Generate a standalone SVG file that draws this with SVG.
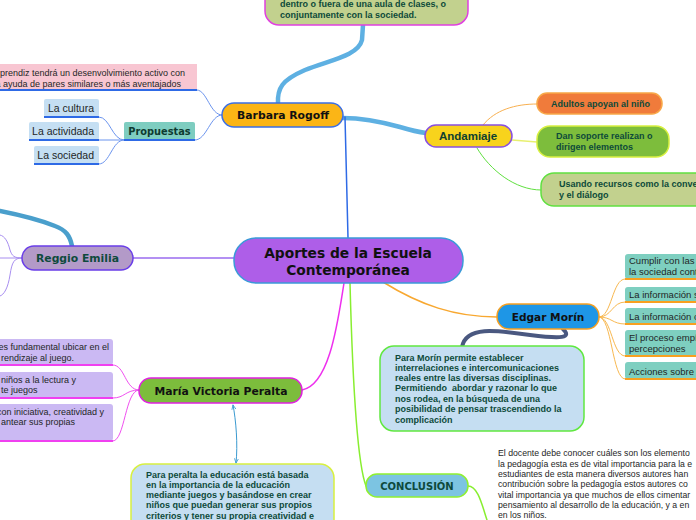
<svg xmlns="http://www.w3.org/2000/svg" width="696" height="520" viewBox="0 0 696 520">
<defs>
<marker id="ar" viewBox="0 0 10 10" refX="9" refY="5" markerWidth="5" markerHeight="5" orient="auto-start-reverse">
<path d="M0,1 L9,5 L0,9" fill="none" stroke="#3a9ad0" stroke-width="1.6"/>
</marker>
</defs>
<style>
.nt{font-family:"DejaVu Sans",Verdana,sans-serif;font-weight:bold;text-anchor:middle}
.dt{font-family:"Liberation Sans",Arial,sans-serif;font-weight:bold;font-size:9px;fill:#0d4a3a}
.lt{font-family:"Liberation Sans",Arial,sans-serif;fill:#1e2626}
.c{fill:none;stroke-linecap:round}
.thin{stroke-width:1}
.mid{stroke-width:1.5}
.thick{stroke-width:4.5}
</style>
<rect width="696" height="520" fill="#ffffff"/>

<g id="connectors">
<path class="c thick" stroke="#5eb0e2" d="M278,104 C277,88 282,80 305,70 C330,60 358,56 362,40 L363,25"/>
<path class="c thick" stroke="#5eb0e2" stroke-width="4" d="M343,118 C362,118 382,122 400,127 C410,130 418,132 426,133"/>
<path class="c mid" stroke="#2e6ae6" d="M345,117 L348,238"/>
<path class="c mid" stroke="#9b6cf0" d="M133,258 L234,258"/>
<path class="c mid" stroke="#ee30ee" d="M344,283 C338,320 330,385 302,390"/>
<path class="c mid" stroke="#88ee30" d="M350,283 C352,360 356,460 366,486"/>
<path class="c mid" stroke="#f8a830" d="M383,282 C420,305 455,317 497,317"/>
<path class="c thick" stroke="#4a9fcc" d="M72,246 C70,236 66,230 55,226 C40,220 20,215 0,211"/>
<path class="c thin" stroke="#a88ef0" d="M22,258 C14,258 12,256 10,250 C8,242 5,236 0,235 M22,258 L0,258 M22,258 C14,258 12,262 10,275 C8,288 4,295 0,296"/>
<path class="c thin" stroke="#6b94ee" d="M222,115 C210,115 207,90 197,90 M222,115 C210,115 207,140 195,140"/>
<path class="c thin" stroke="#6b94ee" d="M124,140 C112,140 110,117 99,117 M124,140 L99,140 M124,140 C112,140 110,164 99,164"/>
<path class="c thin" stroke="#f8b050" d="M483,125 C495,110 515,104 537,104"/>
<path class="c mid" stroke="#e8f070" d="M512,140 L537,142"/>
<path class="c thin" stroke="#60e040" d="M477,148 C490,170 515,190 541,190"/>
<path class="c thin" stroke="#f8b850" d="M599,317 C612,317 612,279 625,279 M599,317 C612,317 612,302 625,302 M599,317 C612,317 612,324 625,324 M599,317 C612,317 612,356 625,356 M599,317 C612,317 612,379 625,379"/>
<path class="c" stroke="#4a5880" stroke-width="4" d="M563,329 C572,338 562,339 530,335 C495,330 466,326 462,347"/>
<path class="c thin" stroke="#f050f0" d="M139,390 C125,390 125,365 113,365 M139,390 C125,390 125,398 113,398 M139,390 C125,390 125,441 113,441"/>
<path class="c thin" stroke="#3a9ad0" marker-start="url(#ar)" marker-end="url(#ar)" d="M233,405 C236,420 238,445 236,463"/>
<path class="c mid" stroke="#88ee30" d="M468,486 C478,486 482,505 487,520"/>
</g>

<g id="central">
<rect x="234" y="238" width="229" height="45" rx="22" fill="#ae5ee8" stroke="#3b9ad8" stroke-width="1.5"/>
<text class="nt" x="348" y="258" font-size="13.8" fill="#111">Aportes de la Escuela</text>
<text class="nt" x="348" y="275" font-size="13.8" fill="#111">Contemporánea</text>
</g>

<g id="barbara-rogoff">
<rect x="222" y="103" width="121" height="24" rx="12" fill="#fbb516" stroke="#3a6fe6" stroke-width="1.5"/>
<text class="nt" x="283" y="119" font-size="10.8" fill="#111">Barbara Rogoff</text>
</g>

<g id="rogoff-nota">
<rect x="265" y="-30" width="203" height="55" rx="14" fill="#c2d18e" stroke="#e040e0" stroke-width="1.5"/>
<text class="dt" x="280" y="7">dentro o fuera de una aula de clases, o</text>
<text class="dt" x="280" y="17.5">conjuntamente con la sociedad.</text>
</g>

<g id="aprendiz">
<rect x="-5" y="64" width="202" height="26" fill="#f8c6d2"/>
<path d="M0,90 L197,90" stroke="#2e6ae6" stroke-width="2"/>
<text class="lt" x="185" y="76" font-size="9" text-anchor="end">prendiz tendrá un desenvolvimiento activo con</text>
<text class="lt" x="181" y="87" font-size="9" text-anchor="end">a ayuda de pares similares o más aventajados</text>
</g>

<g id="propuestas">
<rect x="124" y="122" width="71" height="18" rx="2" fill="#7ecdc0"/>
<path d="M124,140 L195,140" stroke="#2e6ae6" stroke-width="2"/>
<text class="nt" x="159.5" y="135" font-size="9.8" fill="#0e3a30">Propuestas</text>
</g>

<g id="la-cultura">
<rect x="44" y="99" width="55" height="18" rx="2" fill="#c5dff3"/>
<path d="M44,117 L99,117" stroke="#2e6ae6" stroke-width="2"/>
<text class="lt" x="94" y="112" font-size="10.5" text-anchor="end">La cultura</text>
</g>

<g id="la-actividada">
<rect x="29" y="122" width="70" height="18" rx="2" fill="#c5dff3"/>
<path d="M29,140 L99,140" stroke="#2e6ae6" stroke-width="2"/>
<text class="lt" x="94" y="135" font-size="10.5" text-anchor="end">La actividada</text>
</g>

<g id="la-sociedad">
<rect x="34" y="146" width="65" height="18" rx="2" fill="#c5dff3"/>
<path d="M34,164 L99,164" stroke="#2e6ae6" stroke-width="2"/>
<text class="lt" x="94" y="159" font-size="10.5" text-anchor="end">La sociedad</text>
</g>

<g id="andamiaje">
<rect x="425" y="125" width="87" height="22" rx="11" fill="#f8d31c" stroke="#8850e0" stroke-width="1.5"/>
<text x="468" y="140" font-family="Liberation Sans, Arial, sans-serif" font-weight="bold" font-size="11.5" text-anchor="middle" fill="#0e4030">Andamiaje</text>
</g>

<g id="adultos">
<rect x="537" y="93" width="125" height="21" rx="10" fill="#f07b3b" stroke="#f8a848" stroke-width="1.5"/>
<text class="dt" x="551" y="107" fill="#173a22">Adultos apoyan al niño</text>
</g>

<g id="dan-soporte">
<rect x="537" y="126" width="132" height="31" rx="13" fill="#7dbd3c" stroke="#d8f040" stroke-width="1.5"/>
<text class="dt" x="556" y="139">Dan soporte realizan o</text>
<text class="dt" x="556" y="150">dirigen elementos</text>
</g>

<g id="usando-recursos">
<rect x="541" y="173" width="170" height="33" rx="13" fill="#c2d18e" stroke="#60e040" stroke-width="1.5"/>
<text class="dt" x="559" y="187">Usando recursos como la conve</text>
<text class="dt" x="559" y="197.5">y el diálogo</text>
</g>

<g id="reggio-emilia">
<rect x="22" y="246" width="111" height="24" rx="12" fill="#b39ac8" stroke="#6a3ee8" stroke-width="1.5"/>
<text class="nt" x="77.5" y="262" font-size="10.8" fill="#0e4a3c">Reggio Emilia</text>
</g>

<g id="edgar-morin">
<rect x="497" y="304" width="102" height="25" rx="12" fill="#1e96e6" stroke="#f8a020" stroke-width="1.5"/>
<text class="nt" x="548" y="321" font-size="10.6" fill="#111">Edgar Morín</text>
</g>

<g id="morin-1">
<rect x="625" y="254" width="80" height="25" rx="3" fill="#7ecfc0"/>
<path d="M625,279 L696,279" stroke="#f8a020" stroke-width="2"/>
<text class="lt" x="629" y="264" font-size="9.5">Cumplir con las n</text>
<text class="lt" x="629" y="275" font-size="9.5">la sociedad conte</text>
</g>
<g id="morin-2">
<rect x="625" y="287" width="80" height="15" rx="3" fill="#7ecfc0"/>
<path d="M625,302 L696,302" stroke="#f8a020" stroke-width="2"/>
<text class="lt" x="629" y="297.5" font-size="9.5">La información s</text>
</g>
<g id="morin-3">
<rect x="625" y="308" width="80" height="16" rx="3" fill="#7ecfc0"/>
<path d="M625,324 L696,324" stroke="#f8a020" stroke-width="2"/>
<text class="lt" x="629" y="319.5" font-size="9.5">La información o</text>
</g>
<g id="morin-4">
<rect x="625" y="330" width="80" height="26" rx="3" fill="#7ecfc0"/>
<path d="M625,356 L696,356" stroke="#f8a020" stroke-width="2"/>
<text class="lt" x="629" y="340.5" font-size="9.5">El proceso empír</text>
<text class="lt" x="629" y="351.5" font-size="9.5">percepciones</text>
</g>
<g id="morin-5">
<rect x="625" y="362" width="80" height="17" rx="3" fill="#7ecfc0"/>
<path d="M625,379 L696,379" stroke="#f8a020" stroke-width="2"/>
<text class="lt" x="629" y="374.5" font-size="9.5">Acciones sobre l</text>
</g>

<g id="morin-nota">
<rect x="380" y="346" width="204" height="85" rx="14" fill="#c5def2" stroke="#60e840" stroke-width="1.5"/>
<text class="dt" x="395" y="360.5">Para Morín permite establecer</text>
<text class="dt" x="395" y="371">interrelaciones e intercomunicaciones</text>
<text class="dt" x="395" y="381.2">reales entre las diversas disciplinas.</text>
<text class="dt" x="395" y="391.4" xml:space="preserve">Permitiendo  abordar y razonar lo que</text>
<text class="dt" x="395" y="401.6">nos rodea, en la búsqueda de una</text>
<text class="dt" x="395" y="411.8">posibilidad de pensar trascendiendo la</text>
<text class="dt" x="395" y="422.5">complicación</text>
</g>

<g id="maria-victoria-peralta">
<rect x="139" y="378" width="163" height="25" rx="12" fill="#7cbd3c" stroke="#e020e0" stroke-width="1.5"/>
<text class="nt" x="221" y="394.5" font-size="10.8" fill="#111">María Victoria Peralta</text>
</g>

<g id="peralta-1">
<rect x="-5" y="339" width="118" height="26" rx="3" fill="#cbb9f3"/>
<path d="M0,365 L113,365" stroke="#f040f0" stroke-width="2"/>
<text class="lt" x="109" y="350" font-size="9" text-anchor="end">es fundamental ubicar en el</text>
<text class="lt" x="1" y="361" font-size="9">rendizaje al juego.</text>
</g>
<g id="peralta-2">
<rect x="-5" y="372" width="118" height="26" rx="3" fill="#cbb9f3"/>
<path d="M0,398 L113,398" stroke="#f040f0" stroke-width="2"/>
<text class="lt" x="1" y="382.5" font-size="9">niños a la lectura y</text>
<text class="lt" x="1" y="392.5" font-size="9">te juegos</text>
</g>
<g id="peralta-3">
<rect x="-5" y="404" width="118" height="37" rx="3" fill="#cbb9f3"/>
<path d="M0,441 L113,441" stroke="#f040f0" stroke-width="2"/>
<text class="lt" x="104" y="414.5" font-size="9" text-anchor="end">con iniciativa, creatividad y</text>
<text class="lt" x="1" y="425" font-size="9">antear sus propias</text>
</g>

<g id="peralta-nota">
<rect x="131" y="464" width="203" height="80" rx="14" fill="#c5def2" stroke="#d8f040" stroke-width="1.5"/>
<text class="dt" x="146" y="477.5">Para peralta la educación está basada</text>
<text class="dt" x="146" y="487.8">en la importancia de la educación</text>
<text class="dt" x="146" y="498">mediante juegos y basándose en crear</text>
<text class="dt" x="146" y="508.3">niños que puedan generar sus propios</text>
<text class="dt" x="146" y="518.6">criterios y tener su propia creatividad e</text>
</g>

<g id="conclusion">
<rect x="366" y="474" width="102" height="23" rx="11" fill="#7cc4e2" stroke="#90f030" stroke-width="1.5"/>
<text class="nt" x="417" y="490" font-size="10" fill="#0e4a3c">CONCLUSIÓN</text>
</g>

<g id="conclusion-texto">
<text class="lt" x="498" y="456" font-size="8.7">El docente debe conocer cuáles son los elemento</text>
<text class="lt" x="498" y="466.5" font-size="8.7">la pedagogía esta es de vital importancia para la e</text>
<text class="lt" x="498" y="476.8" font-size="8.7">estudiantes de esta manera diversos autores han</text>
<text class="lt" x="498" y="487.2" font-size="8.7">contribución sobre la pedagogía estos autores co</text>
<text class="lt" x="498" y="497.6" font-size="8.7">vital importancia ya que muchos de ellos cimentar</text>
<text class="lt" x="498" y="508" font-size="8.7">pensamiento al desarrollo de la educación, y a en</text>
<text class="lt" x="498" y="518.4" font-size="8.7">en los niños.</text>
</g>
</svg>
